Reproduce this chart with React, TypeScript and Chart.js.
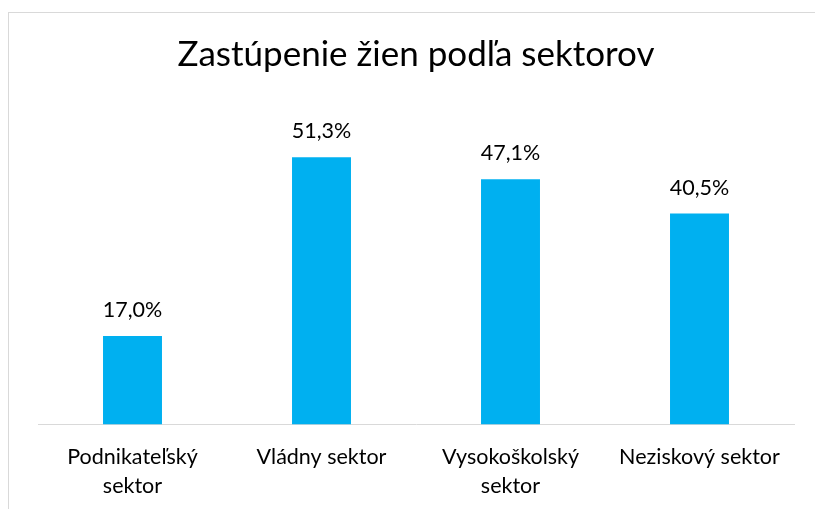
import React, { useEffect, useRef } from "react";
import { Chart, registerables } from "chart.js";

Chart.register(...registerables);

const categories: (string | string[])[] = [
  ["Podnikateľský", "sektor"],
  "Vládny sektor",
  ["Vysokoškolský", "sektor"],
  "Neziskový sektor",
];
const values: number[] = [17.0, 51.3, 47.1, 40.5];
const valueLabels: string[] = ["17,0%", "51,3%", "47,1%", "40,5%"];
const titleText = "Zastúpenie žien podľa sektorov";

const FONT = "Lato, 'Open Sans', sans-serif";

const dataLabelPlugin = {
  id: "dataLabels",
  afterDatasetsDraw(chart: any) {
    const ctx = chart.ctx;
    const meta = chart.getDatasetMeta(0);
    ctx.save();
    ctx.fillStyle = "#000000";
    ctx.font = `21.5px ${FONT}`;
    ctx.textAlign = "center";
    ctx.textBaseline = "alphabetic";
    meta.data.forEach((bar: any, i: number) => {
      ctx.fillText(valueLabels[i], bar.x, bar.y - 19);
    });
    ctx.restore();
  },
};

export default function App() {
  const ref = useRef<HTMLCanvasElement | null>(null);
  useEffect(() => {
    if (!ref.current) return;
    const chart = new Chart(ref.current, {
      type: "bar",
      data: {
        labels: categories,
        datasets: [
          {
            data: values,
            backgroundColor: "#00B0F0",
            borderWidth: 0,
            categoryPercentage: 1,
            barPercentage: 0.312,
          },
        ],
      },
      options: {
        responsive: false,
        animation: false,
        layout: { padding: { left: 29, right: 43, top: 0, bottom: 13.5 } },
        plugins: {
          legend: { display: false },
          tooltip: { enabled: false },
          title: {
            display: true,
            text: titleText,
            color: "#000000",
            font: { family: FONT, size: 35, weight: "normal", lineHeight: 1.2 },
            padding: { top: 20.5, bottom: 36.5 },
          },
        },
        scales: {
          x: {
            grid: { display: false, drawTicks: false },
            border: { display: true, color: "#d9d9d9", width: 1 },
            ticks: {
              color: "#000000",
              font: { family: FONT, size: 21.5, lineHeight: "29px" },
              padding: 18.5,
              maxRotation: 0,
              autoSkip: false,
            },
          },
          y: {
            display: false,
            min: 0,
            max: 60,
          },
        },
      },
      plugins: [dataLabelPlugin],
    });
    return () => chart.destroy();
  }, []);
  return (
    <div
      style={{
        position: "fixed",
        left: 8,
        top: 12,
        width: 828,
        height: 520,
        border: "1px solid #d9d9d9",
        background: "#ffffff",
      }}
    >
      <canvas ref={ref} width={828} height={520} style={{ width: 828, height: 520, display: "block" }} />
    </div>
  );
}
